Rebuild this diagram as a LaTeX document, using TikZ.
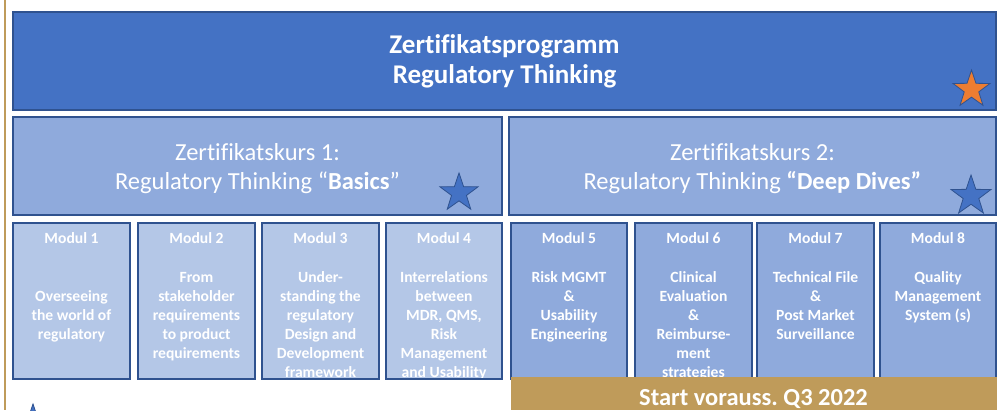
\documentclass[tikz,border=0pt]{standalone}
\usepackage{fontspec}
\setmainfont{Carlito}[Ligatures={NoCommon}]
\usetikzlibrary{shapes.geometric}
\frenchspacing
\definecolor{dblue}{HTML}{4472C4}
\definecolor{bord}{HTML}{2F528F}
\definecolor{mblue}{HTML}{8FAADC}
\definecolor{lblue}{HTML}{B4C7E7}
\definecolor{goldc}{HTML}{BF9B5A}
\definecolor{orng}{HTML}{ED7D31}
\newcommand\modbox[6]{%
  \draw[box, fill=#4] (#2,223) rectangle (#3,379);
  \begin{scope}
    \clip (#2,223) rectangle (#3,379);
    \node[txt, modfont] (m#1t) at ({(#2+#3)/2},243) {Modul #1};
    \foreach \t [count=\i from #5] in {#6}
      \node[txt, modfont] (m#1l\i) at ({(#2+#3)/2},{282+19*\i}) {\t};
  \end{scope}
  \draw[box] (#2,223) rectangle (#3,379);
}
\begin{document}
\begin{tikzpicture}[x=1bp,y=-1bp,
  box/.style={draw=bord, line width=1.3bp},
  txt/.style={text=white, inner sep=0pt, anchor=base},
  modfont/.style={font=\bfseries\fontsize{15.6bp}{19bp}\selectfont},
  kursfont/.style={font=\fontsize{24.5bp}{29bp}\selectfont},
  pstar/.style={star, star points=5, star point ratio=2.55, inner sep=0pt, draw=bord, line width=0.8bp},
]
\useasboundingbox (0,0) rectangle (997,410);
\clip (0,0) rectangle (997,410);
\fill[white] (0,0) rectangle (997,410);
\draw[goldc, line width=2bp] (5,0) -- (5,410);

% top box
\draw[box, fill=dblue] (13,12) rectangle (996,110);
\node[txt, font=\bfseries\fontsize{27bp}{30bp}\selectfont] (t1) at (504.5,53) {Zertifikatsprogramm};
\node[txt, font=\bfseries\fontsize{27bp}{30bp}\selectfont] (t2) at (504.5,83) {Regulatory Thinking};
\node[pstar, fill=orng, minimum size=39bp] (s0) at (971.5,89.5) {};

% course boxes
\draw[box, fill=mblue] (13,117) rectangle (502,215);
\node[txt, kursfont] (k1a) at (257.5,160) {Zertifikatskurs 1:};
\node[txt, kursfont] (k1b) at (257.5,189) {Regulatory Thinking “\textbf{Basics}”};
\node[pstar, fill=dblue, minimum size=40bp] (s1) at (459,193) {};

\draw[box, fill=mblue] (509,117) rectangle (996,215);
\node[txt, kursfont] (k2a) at (752.5,160) {Zertifikatskurs 2:};
\node[txt, kursfont] (k2b) at (752.5,189) {Regulatory Thinking \textbf{“Deep Dives”}};
\node[pstar, fill=dblue, minimum size=42bp] (s2) at (971,196) {};

% modules
\modbox{1}{13}{130}{lblue}{1}{Overseeing, the world of, regulatory}
\modbox{2}{138}{255}{lblue}{0}{From, stakeholder, requirements, to product, requirements}
\modbox{3}{262}{379}{lblue}{0}{Under-, standing the, regulatory, Design and, Development, framework}
\modbox{4}{386}{502}{lblue}{0}{Interrelations, between, {MDR, QMS,}, Risk, Management, and Usability}
\modbox{5}{511}{627}{mblue}{0}{Risk MGMT, \&, Usability, Engineering}
\modbox{6}{635}{752}{mblue}{0}{Clinical, Evaluation, \&, Reimburse-, ment, strategies}
\modbox{7}{757}{874}{mblue}{0}{Technical File, \&, Post Market, Surveillance}
\modbox{8}{880}{996}{mblue}{0}{Quality, Management, System (s)}

% start bar
\fill[goldc] (511,377) rectangle (997,410);
\node[txt, font=\bfseries\fontsize{24.5bp}{28bp}\selectfont] (start) at (753.5,405) {Start vorauss.\ Q3 2022};

% partial star bottom left
\node[pstar, fill=dblue, minimum size=40bp] (s3) at (33,424) {};
\end{tikzpicture}
\end{document}
